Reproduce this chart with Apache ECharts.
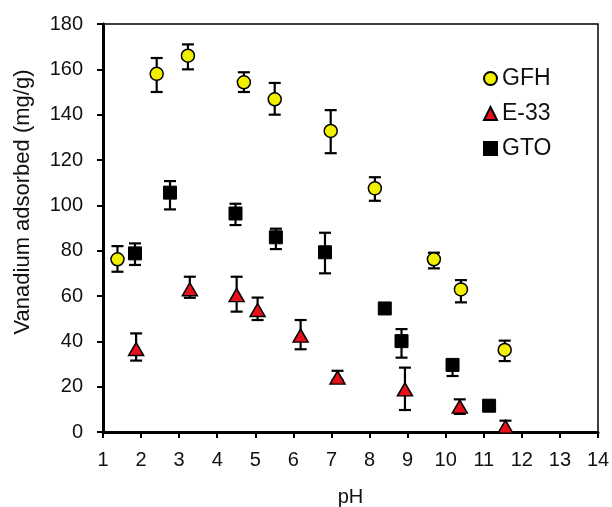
<!DOCTYPE html>
<html>
<head>
<meta charset="utf-8">
<script src="https://cdn.jsdelivr.net/npm/echarts@6/dist/echarts.min.js"></script>
<style>
  html, body { margin: 0; padding: 0; background: #fff; }
  #chart { width: 612px; height: 507px; }
</style>
</head>
<body>
<div id="chart"></div>
<script>
  // GFH
  var gfhPH   = [1.38, 2.41, 3.23, 4.70, 5.51, 6.98, 8.14, 9.69, 10.40, 11.55];
  var gfhV    = [76.2, 158, 166, 154.3, 146.8, 132.8, 107.5, 76.2, 62.9, 36.2];
  var gfhHigh = [82, 165, 171, 158.7, 154, 142, 112.4, 79.1, 67, 40.3];
  var gfhLow  = [70.7, 150, 160, 150, 140, 123, 102, 72.2, 57.2, 31.3];
  // E-33
  var e33PH   = [1.87, 3.28, 4.51, 5.06, 6.19, 7.16, 8.93, 10.37, 11.57];
  var e33V    = [36.6, 63, 60.4, 53.8, 42.5, 24, 18.8, 11.2, 2.3];
  var e33High = [43.5, 68.5, 68.5, 59.3, 49.4, 27, 28.4, 14.4, 5];
  var e33Low  = [31.5, 59.2, 53.1, 49.4, 36.5, 23, 9.7, 8, 0];
  // GTO
  var gtoPH   = [1.84, 2.76, 4.48, 5.54, 6.83, 8.40, 8.84, 10.18, 11.14];
  var gtoV    = [78.8, 105.6, 96.4, 85.9, 79.3, 54.5, 40.1, 29.6, 11.6];
  var gtoHigh = [83.2, 110.7, 100.7, 89.7, 87.9, 55.5, 45.4, 31.8, 12.5];
  var gtoLow  = [73.7, 98.2, 91.3, 80.7, 70, 53.5, 32.8, 24.7, 10.7];

  function pts(x, y) {
    var out = [];
    for (var i = 0; i < x.length; i++) out.push([x[i], y[i]]);
    return out;
  }
  function errData(x, lo, hi) {
    var out = [];
    for (var i = 0; i < x.length; i++) out.push([x[i], lo[i], hi[i]]);
    return out;
  }
  // vertical error bar with caps
  function renderErr(params, api) {
    var x = api.value(0);
    var lo = api.coord([x, api.value(1)]);
    var hi = api.coord([x, api.value(2)]);
    var w = 6;
    var st = { stroke: '#000', lineWidth: 2.2 };
    return {
      type: 'group',
      children: [
        { type: 'line', shape: { x1: hi[0], y1: hi[1], x2: lo[0], y2: lo[1] }, style: st },
        { type: 'line', shape: { x1: hi[0] - w, y1: hi[1], x2: hi[0] + w, y2: hi[1] }, style: st },
        { type: 'line', shape: { x1: lo[0] - w, y1: lo[1], x2: lo[0] + w, y2: lo[1] }, style: st }
      ]
    };
  }

  var font = 'Liberation Sans, Arial, sans-serif';
  var myChart = echarts.init(document.getElementById('chart'));
  var option = {
    animation: false,
    textStyle: { fontFamily: font },
    grid: {
      left: 103, right: 14, top: 24, bottom: 75,
      outerBoundsMode: 'none',
      show: true, borderColor: '#000', borderWidth: 1.5
    },
    legend: {
      orient: 'vertical',
      left: 478, top: 62,
      itemWidth: 13, itemHeight: 13,
      itemGap: 12,
      textStyle: { fontSize: 23, color: '#111', fontFamily: font },
      data: ['GFH', 'E-33', 'GTO']
    },
    xAxis: {
      type: 'value',
      min: 1, max: 14, interval: 1,
      name: 'pH',
      nameLocation: 'middle',
      nameGap: 55,
      nameTextStyle: { fontSize: 20, color: '#111' },
      axisLine: { lineStyle: { color: '#000', width: 3 } },
      axisTick: { show: true, length: 6, lineStyle: { color: '#000', width: 2 } },
      axisLabel: { fontSize: 20, color: '#111', margin: 18 },
      splitLine: { show: false }
    },
    yAxis: {
      type: 'value',
      min: 0, max: 180, interval: 20,
      name: 'Vanadium adsorbed (mg/g)',
      nameLocation: 'middle',
      nameGap: 69,
      nameTextStyle: { fontSize: 22, color: '#111', padding: [0, 0, 0, 52] },
      axisLine: { lineStyle: { color: '#000', width: 3 } },
      axisTick: { show: true, length: 6, lineStyle: { color: '#000', width: 2 } },
      axisLabel: { fontSize: 20, color: '#111', margin: 20 },
      splitLine: { show: false }
    },
    series: [
      { name: 'GFH err', type: 'custom', renderItem: renderErr, data: errData(gfhPH, gfhLow, gfhHigh), z: 1, silent: true },
      { name: 'E-33 err', type: 'custom', renderItem: renderErr, data: errData(e33PH, e33Low, e33High), z: 1, silent: true },
      { name: 'GTO err', type: 'custom', renderItem: renderErr, data: errData(gtoPH, gtoLow, gtoHigh), z: 1, silent: true },
      {
        name: 'GFH', type: 'scatter', symbol: 'circle', symbolSize: 13, z: 3,
        itemStyle: { color: '#f2f000', borderColor: '#000', borderWidth: 1.5, opacity: 1 },
        data: pts(gfhPH, gfhV)
      },
      {
        name: 'E-33', type: 'scatter', symbol: 'triangle', symbolSize: [15, 13], z: 3,
        itemStyle: { color: '#e8101a', borderColor: '#000', borderWidth: 1.5, opacity: 1 },
        data: pts(e33PH, e33V)
      },
      {
        name: 'GTO', type: 'scatter', symbol: 'rect', symbolSize: 13, z: 3,
        itemStyle: { color: '#000', borderColor: '#000', borderWidth: 1, opacity: 1 },
        data: pts(gtoPH, gtoV)
      }
    ]
  };
  myChart.setOption(option);
</script>
</body>
</html>
